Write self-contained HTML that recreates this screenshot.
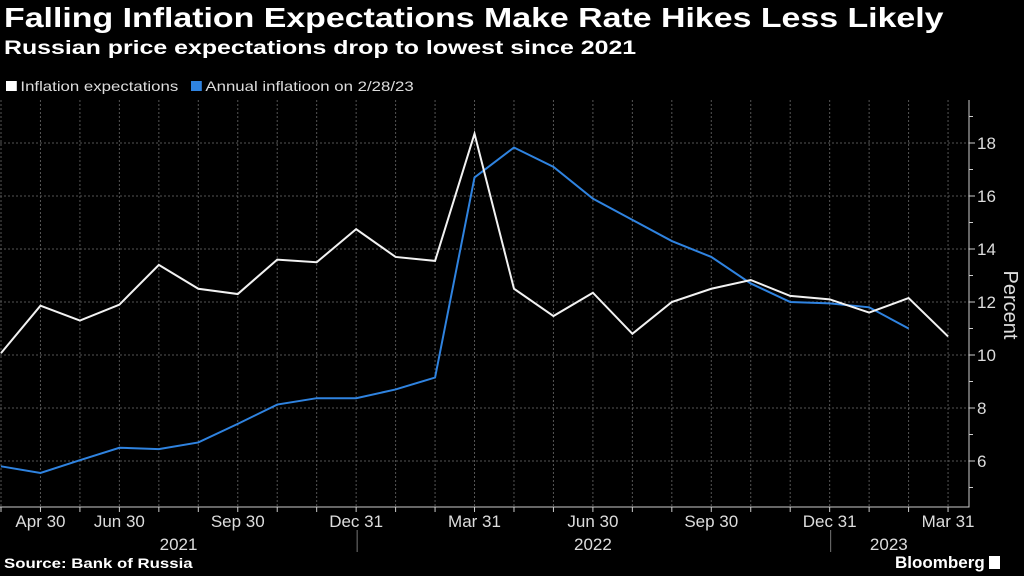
<!DOCTYPE html>
<html><head><meta charset="utf-8">
<style>
html,body{margin:0;padding:0;background:#000;}
body{width:1024px;height:576px;overflow:hidden;position:relative;font-family:"Liberation Sans",sans-serif;color:#fff;}
.t{position:absolute;white-space:nowrap;transform-origin:0 0;}
</style></head>
<body>
<div class="t" style="left:4px;top:2px;font-size:28px;font-weight:bold;transform:scaleX(1.21);">Falling Inflation Expectations Make Rate Hikes Less Likely</div>
<div class="t" style="left:4px;top:38px;font-size:19px;font-weight:bold;transform:scaleX(1.31);">Russian price expectations drop to lowest since 2021</div>
<div class="t" style="left:6px;top:78px;font-size:14px;color:#ddd;transform:scaleX(1.2);"><span style="display:inline-block;width:9px;height:10px;background:#fff;margin-right:3px;"></span>Inflation expectations</div>
<div class="t" style="left:191px;top:78px;font-size:14px;color:#ddd;transform:scaleX(1.2);"><span style="display:inline-block;width:9px;height:10px;background:#2f83e0;margin-right:3px;"></span>Annual inflatioon on 2/28/23</div>
<svg id="chart" width="1024" height="576" style="position:absolute;left:0;top:0;"></svg>
<div class="t" style="left:4px;top:555px;font-size:14px;font-weight:bold;transform:scaleX(1.2);">Source: Bank of Russia</div>
<div class="t" style="left:895px;top:553px;font-size:17px;font-weight:bold;">Bloomberg <span style="display:inline-block;width:11px;height:13px;background:#fff;vertical-align:-1px;"></span></div>
<script>
const expectations=[10.07,11.86,11.3,11.9,13.4,12.5,12.3,13.6,13.5,14.75,13.7,13.55,18.35,12.5,11.47,12.35,10.8,12.0,12.5,12.83,12.23,12.1,11.6,12.15,10.7];
const annualInflation=[5.8,5.55,6.03,6.5,6.45,6.7,7.4,8.13,8.37,8.37,8.7,9.15,16.7,17.83,17.1,15.9,15.1,14.3,13.7,12.7,12.0,11.95,11.8,11.0];
const yTicks=[6,8,10,12,14,16,18];
const xLabels=[[1,"Apr 30"],[3,"Jun 30"],[6,"Sep 30"],[9,"Dec 31"],[12,"Mar 31"],[15,"Jun 30"],[18,"Sep 30"],[21,"Dec 31"],[24,"Mar 31"]];
const yearLabels=[[4.5,"2021"],[15,"2022"],[22.5,"2023"]];
const yearSeps=[9,21];
const NS="http://www.w3.org/2000/svg";
const svg=document.getElementById('chart');
const X=i=>1+i*39.46, Y=v=>355-(v-10)*26.5;
const plotBottom=507, axisX=969, plotTop=100;
function el(tag,attrs,parent){const e=document.createElementNS(NS,tag);for(const k in attrs)e.setAttribute(k,attrs[k]);(parent||svg).appendChild(e);return e;}
for(let i=0;i<25;i++){
  const g=el('line',{x1:X(i),x2:X(i),y1:plotTop,y2:plotBottom,stroke:'#555','stroke-dasharray':'2,2','stroke-width':1});
  
  
  const tk=el('line',{x1:X(i),x2:X(i),y1:plotBottom,y2:plotBottom+5,stroke:'#ccc'});
  
  
}
for(let v=5;v<=19;v++){
  const tk=el('line',{x1:axisX,x2:axisX+(v%2===0?6:4),y1:Y(v),y2:Y(v),stroke:'#ccc'});
  
  
}
yTicks.forEach(v=>{
  const g=el('line',{x1:0,x2:axisX,y1:Y(v),y2:Y(v),stroke:'#555','stroke-dasharray':'2,2'});
  
  
  const t=el('text',{x:axisX+8,y:Y(v)+6,fill:'#ddd','font-size':17,'font-family':'Liberation Sans, sans-serif'});
  t.textContent=v;
  
  
});
const ax=el('path',{d:`M0 ${plotBottom}H${axisX}V${plotTop}`,stroke:'#ccc',fill:'none'});


const yt=el('text',{x:0,y:0,fill:'#ddd','font-size':20,'text-anchor':'middle','font-family':'Liberation Sans, sans-serif',transform:'translate(1004,305) rotate(90)'});
yt.textContent='Percent';


xLabels.forEach(([i,s])=>{
  const t=el('text',{x:X(i),y:527,fill:'#ddd','font-size':17,'text-anchor':'middle','font-family':'Liberation Sans, sans-serif'});
  t.textContent=s;
  
  
});
yearLabels.forEach(([i,s])=>{
  const t=el('text',{x:X(i),y:550,fill:'#ddd','font-size':17,'text-anchor':'middle','font-family':'Liberation Sans, sans-serif'});
  t.textContent=s;
  
  
});
yearSeps.forEach(i=>{
  const l=el('line',{x1:X(i)+1,x2:X(i)+1,y1:530,y2:552,stroke:'#777'});
  
  
});
const pb=el('polyline',{points:annualInflation.map((v,i)=>X(i)+','+Y(v)).join(' '),fill:'none',stroke:'#2f83e0','stroke-width':2});


const pw=el('polyline',{points:expectations.map((v,i)=>X(i)+','+Y(v)).join(' '),fill:'none',stroke:'#f2f2f2','stroke-width':2});


</script>
</body></html>
